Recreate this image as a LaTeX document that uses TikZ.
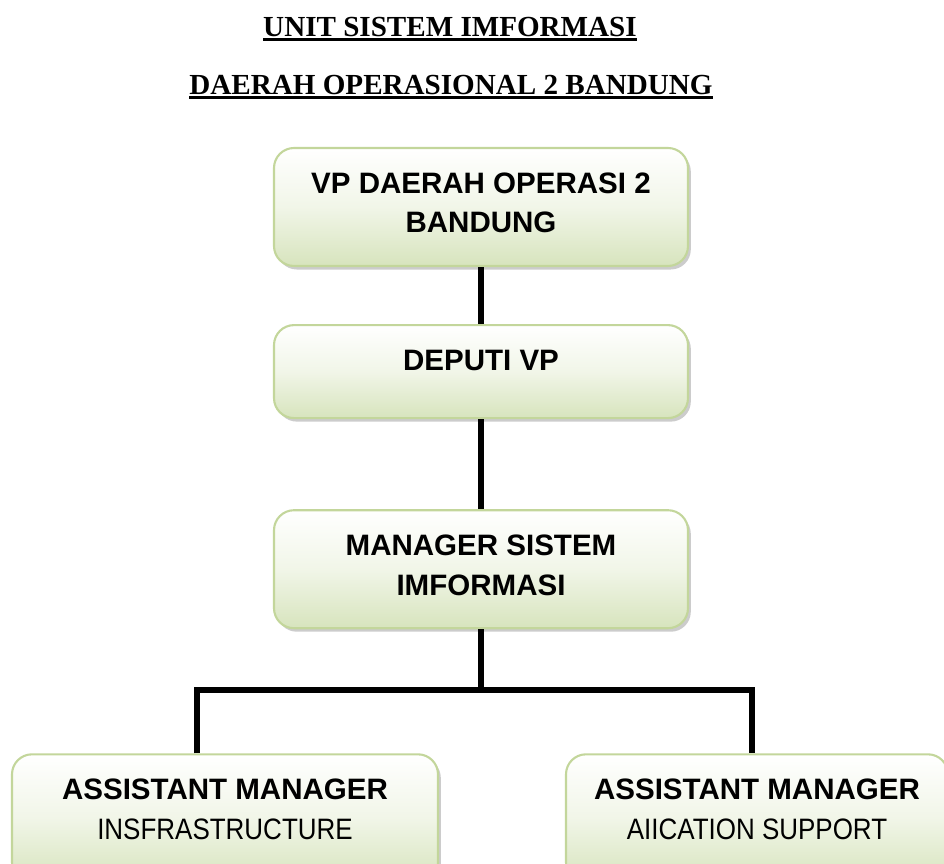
\documentclass[tikz,border=0pt]{standalone}
\usepackage{fontspec}
\setmainfont{Liberation Serif}
\newfontfamily\boxfont{Liberation Sans}
\newfontfamily\boxnarrow[FakeStretch=0.88]{Liberation Sans}
\usetikzlibrary{positioning, shadows}

\definecolor{boxgreen}{RGB}{215,228,189}
\definecolor{boxedge}{RGB}{195,214,155}

% heading with a heavy underline
\newcommand{\headline}[1]{\setbox0\hbox{#1}\leavevmode\rlap{\rule[-3.2pt]{\wd0}{2.2pt}}\box0}
% box text: height, width, lines (top aligned)
\newcommand{\orgtext}[3]{\parbox[c][#1][t]{#2}{\centering\boxfont\fontsize{21}{28}\selectfont\rule{0pt}{1.14cm}#3}}

\begin{document}
\begin{tikzpicture}
    \tikzset{
      orgbox/.style={draw=boxedge, line width=1.5pt, rounded corners=0.5cm,
        inner sep=0pt, top color=white, bottom color=boxgreen, middle color=boxgreen!35,
        drop shadow={shadow xshift=2pt, shadow yshift=-2.5pt, fill=black!40}}, % the green boxes
      conn/.style={line width=4pt, line join=miter}, % the black connectors
      title/.style={anchor=base, font=\bfseries\fontsize{20.7}{25}\selectfont}, % headings
      node distance=1.425cm,
    }
    \clip (0,0) rectangle (23.6,-21.6);

    \node[title] (head1) at (11.25,-0.925) {\headline{UNIT SISTEM IMFORMASI}};
    \node[title] (head2) at (11.275,-2.375) {\headline{DAERAH OPERASIONAL 2 BANDUNG}};

    \node[orgbox] (vp) at (12.025,-5.175) {\orgtext{2.95cm}{10.35cm}{\textbf{VP DAERAH OPERASI 2}\\\textbf{BANDUNG}}};
    \node[orgbox, below=of vp] (dep) {\orgtext{2.325cm}{10.35cm}{\textbf{DEPUTI VP}}};
    \node[orgbox, below=2.25cm of dep] (mgr) {\orgtext{2.95cm}{10.35cm}{\textbf{MANAGER SISTEM}\\\textbf{IMFORMASI}}};
    \node[orgbox, below=3.1cm of mgr, xshift=-6.4cm] (ainf) {\orgtext{3.2cm}{10.65cm}{\textbf{ASSISTANT MANAGER}\\{\boxnarrow INSFRASTRUCTURE}}};
    \node[orgbox, below=3.1cm of mgr, xshift=6.9cm] (aapp) {\orgtext{3.2cm}{9.55cm}{\textbf{ASSISTANT MANAGER}\\{\boxnarrow AIICATION SUPPORT}}};

    \coordinate (barL) at (4.925,-17.25);
    \coordinate (barR) at (18.8,-17.25);

    \draw[conn] (vp) -- (dep);
    \draw[conn] (dep) -- (mgr);
    \draw[conn] (mgr) -- (mgr |- barL);
    \draw[conn] (barL |- ainf.north) -- (barL) -- (barR) -- (barR |- aapp.north);
\end{tikzpicture}
\end{document}
